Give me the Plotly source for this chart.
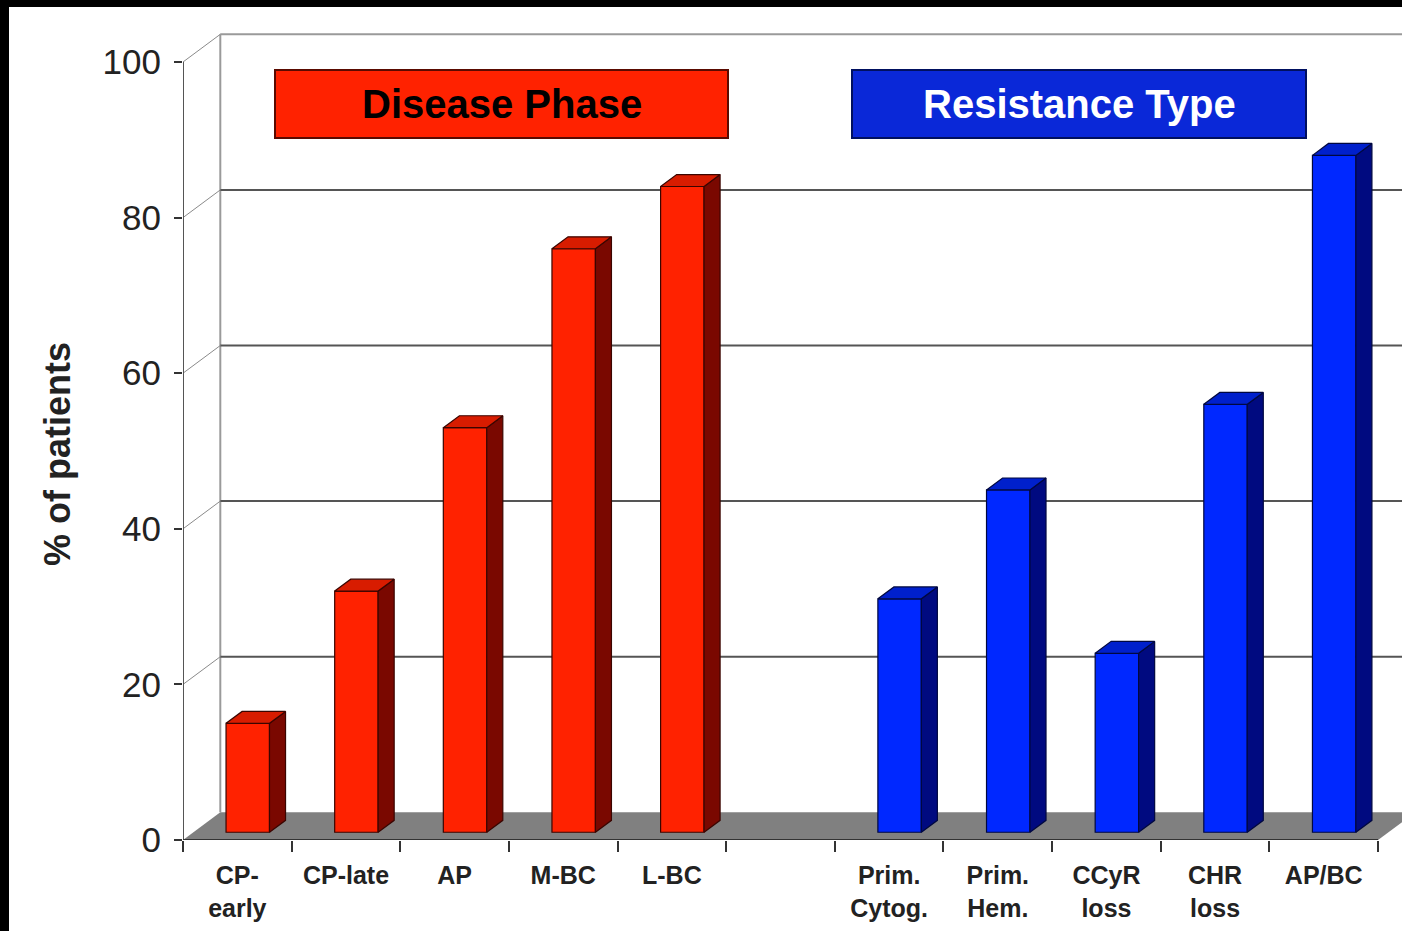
import plotly.graph_objects as go

# ---- data -------------------------------------------------------------
phase_labels = ["CP-<br>early", "CP-late", "AP", "M-BC", "L-BC"]
phase_values = [14, 31, 52, 75, 83]
resist_labels = ["Prim.<br>Cytog.", "Prim.<br>Hem.", "CCyR<br>loss", "CHR<br>loss", "AP/BC"]
resist_values = [30, 44, 23, 55, 87]
y_ticks = [0, 20, 40, 60, 80, 100]
group_titles = ["Disease Phase", "Resistance Type"]
y_title = "% of patients"

# ---- geometry ---------------------------------------------------------
W, H = 1402, 931
ML, MR, MT, MB = 183, 0, 28, 91
CAT_PX = 108.64          # pixels per category slot
UNIT_PX = 7.78           # pixels per percentage point
PW, PH = W - ML - MR, H - MT - MB
x_lo = -0.5
x_hi = x_lo + PW / CAT_PX
y_hi = PH / UNIT_PX
n_slots = 11             # 5 + gap + 5

DX = 37.3 / CAT_PX       # depth of the 3-D box along x
DY = 27.7 / UNIT_PX      # depth of the 3-D box along y
F0 = 0.28                # bar front plane (fraction of depth)
FD = 0.43                # bar depth (fraction of depth)
BW = 0.40                # bar width (category units)

phase_slots = [0, 1, 2, 3, 4]
resist_slots = [6, 7, 8, 9, 10]

FONT = "Liberation Sans, Arial, sans-serif"


def px_x(p):
    return (p - ML) / PW


def px_y(p):
    return (H - MB - p) / PH


def faces(slots, values):
    """Top and side faces of each column as polygons in data units."""
    tx, ty, sx, sy = [], [], [], []
    ddx, ddy = FD * DX, FD * DY
    for s, v in zip(slots, values):
        xl = s + F0 * DX - BW / 2
        xr = xl + BW
        yb = F0 * DY
        yt = v + F0 * DY
        tx += [xl, xr, xr + ddx, xl + ddx, xl, None]
        ty += [yt, yt, yt + ddy, yt + ddy, yt, None]
        sx += [xr, xr + ddx, xr + ddx, xr, xr, None]
        sy += [yb, yb + ddy, yt + ddy, yt, yb, None]
    return tx, ty, sx, sy


fig = go.Figure()

series = [
    (phase_slots, phase_values, "#FF2200", "#D81C00", "#7A0800", "#3A0500"),
    (resist_slots, resist_values, "#0028FF", "#0020CC", "#000A80", "#000840"),
]
for slots, values, c_front, c_top, c_side, c_edge in series:
    fig.add_trace(go.Bar(
        x=[s + F0 * DX for s in slots], y=values, base=F0 * DY, width=BW,
        marker=dict(color=c_front, line=dict(color=c_edge, width=1.2)),
        hoverinfo="skip", showlegend=False,
    ))
    tx, ty, sx, sy = faces(slots, values)
    fig.add_trace(go.Scatter(
        x=sx, y=sy, mode="lines", fill="toself", fillcolor=c_side,
        line=dict(color=c_edge, width=1.2), hoverinfo="skip", showlegend=False,
    ))
    fig.add_trace(go.Scatter(
        x=tx, y=ty, mode="lines", fill="toself", fillcolor=c_top,
        line=dict(color=c_edge, width=1.2), hoverinfo="skip", showlegend=False,
    ))

shapes = []
x_front_r = x_lo + n_slots
# floor
shapes.append(dict(
    type="path", xref="x", yref="y", layer="below",
    path=f"M{x_lo},0 L{x_front_r},0 L{x_front_r + DX},{DY} L{x_lo + DX},{DY} Z",
    fillcolor="#808080", line=dict(width=0),
))
# back wall: left edge, top edge, gridlines
shapes.append(dict(type="line", xref="x", yref="y", layer="below",
                   x0=x_lo + DX, y0=DY, x1=x_lo + DX, y1=100 + DY,
                   line=dict(color="#9A9A9A", width=2)))
for v in y_ticks[1:]:
    col = "#9A9A9A" if v == 100 else "#555555"
    shapes.append(dict(type="line", xref="x", yref="y", layer="below",
                       x0=x_lo + DX, y0=v + DY, x1=x_hi + 1, y1=v + DY,
                       line=dict(color=col, width=2)))
    # side-wall diagonals
    shapes.append(dict(type="line", xref="x", yref="y", layer="below",
                       x0=x_lo, y0=v, x1=x_lo + DX, y1=v + DY,
                       line=dict(color="#8A8A8A", width=1)))
# front axes
shapes.append(dict(type="line", xref="x", yref="y", layer="above",
                   x0=x_lo, y0=0, x1=x_lo, y1=100,
                   line=dict(color="#555555", width=2)))
shapes.append(dict(type="line", xref="x", yref="y", layer="above",
                   x0=x_lo, y0=0, x1=x_front_r, y1=0,
                   line=dict(color="#333333", width=2)))

# black frame along top and left
shapes.append(dict(type="rect", xref="paper", yref="paper", layer="above",
                   x0=px_x(0), x1=px_x(W), y0=px_y(7), y1=px_y(0),
                   fillcolor="black", line=dict(width=0)))
shapes.append(dict(type="rect", xref="paper", yref="paper", layer="above",
                   x0=px_x(0), x1=px_x(9), y0=px_y(H), y1=px_y(0),
                   fillcolor="black", line=dict(width=0)))

# group header boxes
boxes = [
    (275, 728, "#FF2200", "#5A0A00", "black"),
    (852, 1306, "#0A28D8", "#001060", "white"),
]
annotations = []
for (bx0, bx1, fill, edge, tcol), title in zip(boxes, group_titles):
    shapes.append(dict(type="rect", xref="paper", yref="paper", layer="above",
                       x0=px_x(bx0), x1=px_x(bx1), y0=px_y(138), y1=px_y(70),
                       fillcolor=fill, line=dict(color=edge, width=2)))
    annotations.append(dict(
        xref="paper", yref="paper", x=px_x((bx0 + bx1) / 2), y=px_y(104),
        text=title, showarrow=False, xanchor="center", yanchor="middle",
        font=dict(family=FONT, size=40, color=tcol, weight="bold"),
    ))

# value-axis title, centred on the 0-100 span
annotations.append(dict(
    xref="paper", yref="paper", x=px_x(57), y=px_y(454),
    text=y_title, textangle=-90, showarrow=False,
    xanchor="center", yanchor="middle",
    font=dict(family=FONT, size=36, color="#222222", weight="bold"),
))

boundaries = [x_lo + k for k in range(n_slots + 1)]

fig.update_layout(
    width=W, height=H,
    margin=dict(l=ML, r=MR, t=MT, b=MB, pad=0),
    paper_bgcolor="white", plot_bgcolor="white",
    barmode="overlay",
    shapes=shapes, annotations=annotations,
    xaxis=dict(
        range=[x_lo, x_hi], showgrid=False, zeroline=False, showline=False,
        tickmode="array", tickvals=phase_slots + resist_slots,
        ticktext=phase_labels + resist_labels, ticks="",
        ticklabelstandoff=18,
        tickfont=dict(family=FONT, size=25, color="#222222", weight="bold"),
        minor=dict(tickmode="array", tickvals=boundaries, ticks="outside",
                   ticklen=11, tickwidth=2, tickcolor="#333333", showgrid=False),
    ),
    yaxis=dict(
        range=[0, y_hi], showgrid=False, zeroline=False, showline=False,
        tickmode="array", tickvals=y_ticks, ticks="outside", ticklen=8,
        tickwidth=2, tickcolor="#333333", ticklabelstandoff=6,
        tickfont=dict(family=FONT, size=35, color="#222222"),
    ),
)

fig.write_html("out.html")
